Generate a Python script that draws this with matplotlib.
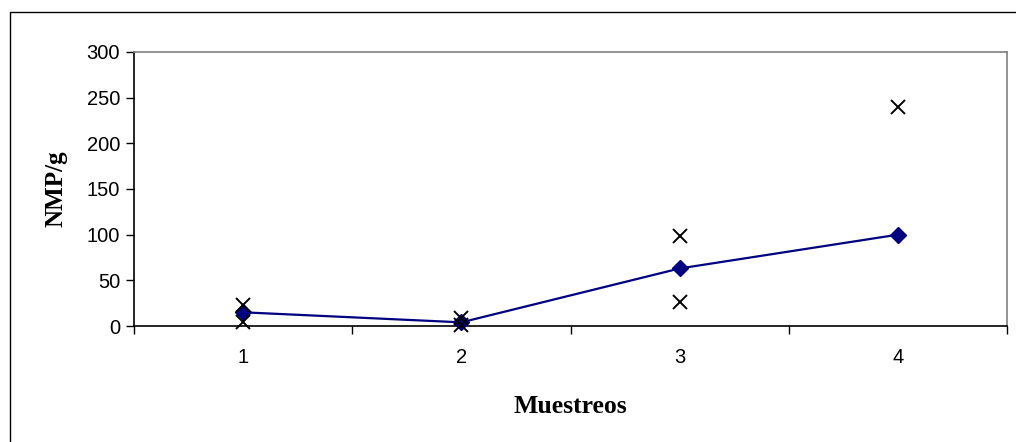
import numpy as np
import matplotlib
matplotlib.use("Agg")
import matplotlib.pyplot as plt
from matplotlib.patches import Rectangle

categories = [1, 2, 3, 4]
promedio = [15, 4, 63, 100]
maximo = [23, 9, 98, 240]
minimo = [4, 1, 26, np.nan]
yticks = [0, 50, 100, 150, 200, 250, 300]

fig = plt.figure(figsize=(10.16, 4.42), dpi=100)
fig.patch.set_facecolor("white")
fig.patches.append(Rectangle((10/1016, -0.05), 1.1, 0.05 + (442-12)/442,
                             transform=fig.transFigure, fill=False,
                             edgecolor="black", linewidth=1.0))

ax = fig.add_axes([134/1016, (442-326)/442, (1007-134)/1016, (326-52)/442])
x = np.arange(1, len(categories) + 1)
ax.plot(x, promedio, color="#000080", linewidth=1.6, marker="D",
        markersize=8, markerfacecolor="#000080", markeredgecolor="#000080", zorder=3)
ax.plot(x, maximo, linestyle="none", marker="x", markersize=10,
        markeredgewidth=1.4, color="black", zorder=4)
ax.plot(x, minimo, linestyle="none", marker="x", markersize=10,
        markeredgewidth=1.4, color="black", zorder=4)

ax.set_xlim(0.5, len(categories) + 0.5)
ax.set_ylim(0, 300)
ax.set_yticks(yticks)
ax.set_yticklabels([str(v) for v in yticks], fontfamily="Liberation Sans", fontsize=14.5)
ax.set_xticks(x)
ax.set_xticklabels([str(c) for c in categories], fontfamily="Liberation Sans", fontsize=14.5)
ax.set_xticks(np.arange(0.5, len(categories) + 1, 1.0), minor=True)
ax.tick_params(axis="x", which="major", length=0, pad=16)
ax.tick_params(axis="x", which="minor", length=6, direction="out", width=1)
ax.tick_params(axis="y", which="major", length=6, direction="out", width=1, pad=4)

for s in ["top", "right"]:
    ax.spines[s].set_color("#808080")
    ax.spines[s].set_linewidth(1.2)
for s in ["left", "bottom"]:
    ax.spines[s].set_color("black")
    ax.spines[s].set_linewidth(1.2)
for line in ax.lines:
    line.set_clip_on(False)

ax.set_xlabel("Muestreos", fontfamily="Liberation Serif", fontweight="bold",
              fontsize=18.5, labelpad=20)
ax.set_ylabel("NMP/g", fontfamily="Liberation Serif", fontweight="bold",
              fontsize=18, labelpad=14)

fig.savefig("out.png", dpi=100)
